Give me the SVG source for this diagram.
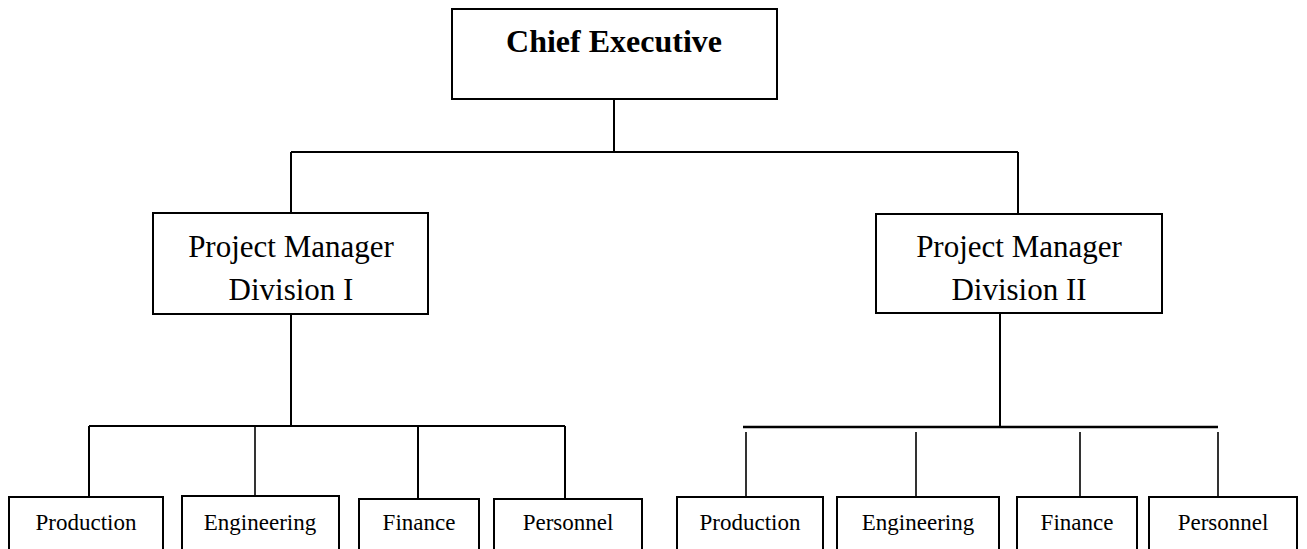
<svg xmlns="http://www.w3.org/2000/svg" width="1307" height="549" viewBox="0 0 1307 549">
<style>
.box{fill:#fff;stroke:#000;stroke-width:2}
.ln{stroke:#000;stroke-width:2;fill:none}
.thin{stroke:#000;stroke-width:1.6;fill:none}
.thick{stroke:#000;stroke-width:2.6;fill:none}
.t{font-family:"Liberation Serif","Times New Roman",serif;fill:#000;text-anchor:middle}
.big{font-size:31px}
.sm{font-size:23px}
.bold{font-size:32px;font-weight:bold}
</style>
<rect width="1307" height="549" fill="#fff"/>
<g id="connectors">
<path class="ln" d="M614 99V152M291 152H1018M291 152V213M1018 152V214"/>
<path class="ln" d="M291 314V426M89 426H565M89 426V497M418 426V499M565 426V499"/>
<path class="thin" d="M255 426V496" stroke="#333"/>
<path class="ln" d="M1000 313V427"/>
<path class="thick" d="M743 427H1218"/>
<path class="thin" d="M746 432V497M916 432V497M1080 432V497M1218 432V497"/>
</g>
<g id="chief"><rect class="box" x="452" y="9" width="325" height="90"/><text class="t bold" x="614" y="52">Chief Executive</text></g>
<g id="pm1"><rect class="box" x="153" y="213" width="275" height="101"/><text class="t big" x="291" y="257">Project Manager</text><text class="t big" x="291" y="300">Division I</text></g>
<g id="pm2"><rect class="box" x="876" y="214" width="286" height="99"/><text class="t big" x="1019" y="257">Project Manager</text><text class="t big" x="1019" y="300">Division II</text></g>
<g id="prod1"><rect class="box" x="9" y="497" width="154" height="60"/><text class="t sm" x="86" y="530">Production</text></g>
<g id="eng1"><rect class="box" x="182" y="496" width="157" height="61"/><text class="t sm" x="260" y="530">Engineering</text></g>
<g id="fin1"><rect class="box" x="359" y="499" width="120" height="58"/><text class="t sm" x="419" y="530">Finance</text></g>
<g id="per1"><rect class="box" x="494" y="499" width="148" height="58"/><text class="t sm" x="568" y="530">Personnel</text></g>
<g id="prod2"><rect class="box" x="677" y="497" width="146" height="60"/><text class="t sm" x="750" y="530">Production</text></g>
<g id="eng2"><rect class="box" x="837" y="497" width="162" height="60"/><text class="t sm" x="918" y="530">Engineering</text></g>
<g id="fin2"><rect class="box" x="1017" y="497" width="120" height="60"/><text class="t sm" x="1077" y="530">Finance</text></g>
<g id="per2"><rect class="box" x="1149" y="497" width="148" height="60"/><text class="t sm" x="1223" y="530">Personnel</text></g>
</svg>
